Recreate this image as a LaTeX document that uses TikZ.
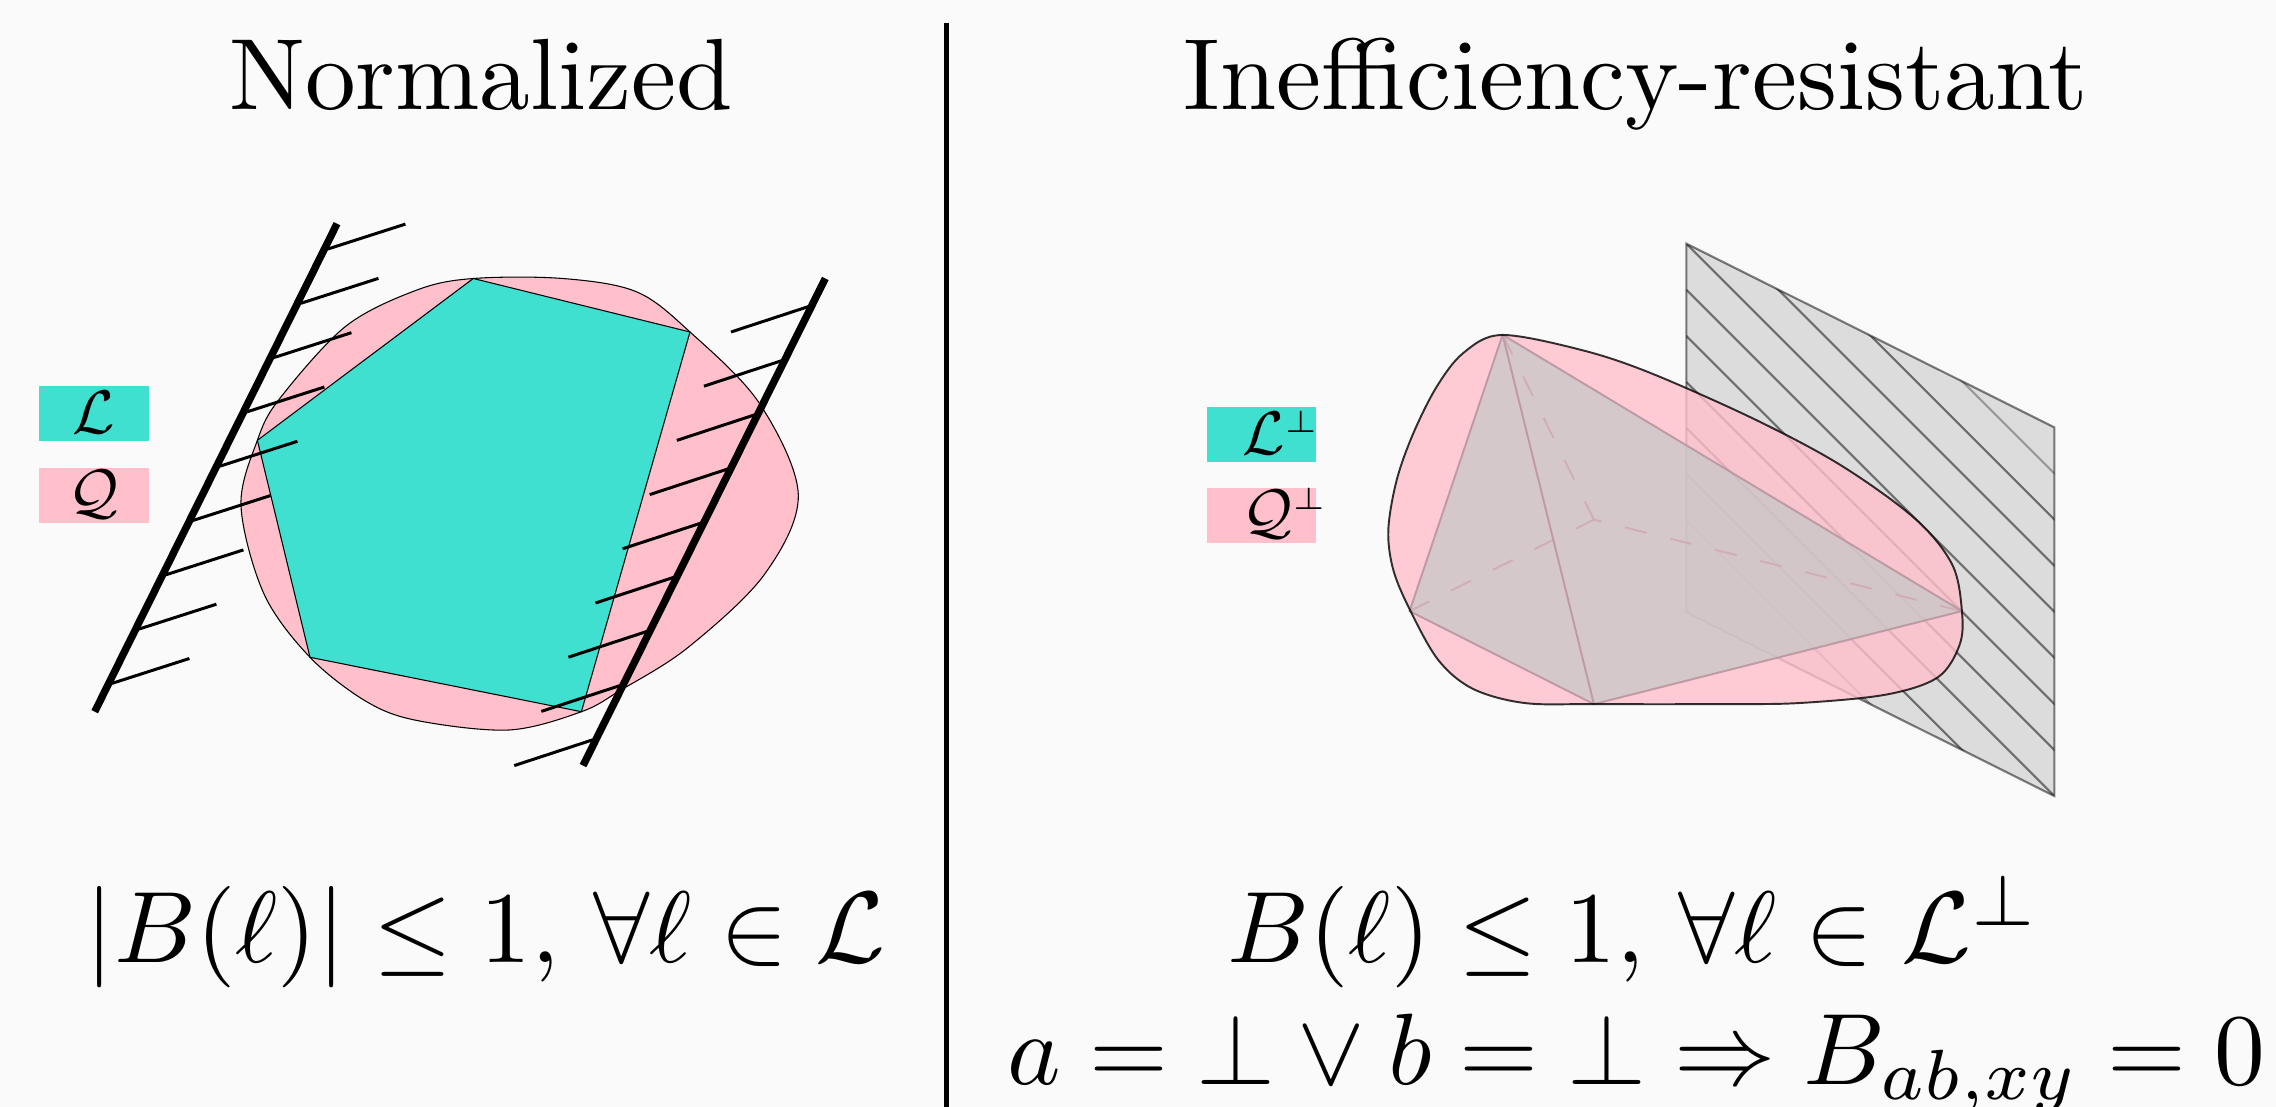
\documentclass[tikz,border=0pt]{standalone}
\usepackage{amsmath,amssymb}
\usepackage{xcolor}
\usetikzlibrary{positioning, calc}
\definecolor{pagebg}{HTML}{FAFAFA}
\definecolor{localset}{HTML}{40E0D0}
\definecolor{quantumset}{HTML}{FFC0CB}
\definecolor{planegray}{HTML}{DCDCDC}
\definecolor{bodygray}{HTML}{C7C7C7}
\definecolor{bodyedge}{HTML}{BD9AA5}
\definecolor{bodydash}{HTML}{CFAEB8}
\newcommand{\titlelabel}[1]{\scalebox{2.88}{#1}}
\newcommand{\boundlabel}[1]{\scalebox{2.885}{$#1$}}
\newcommand{\setlabel}[1]{\scalebox{1.75}{$#1$}}
\tikzset{
    headtext/.style={anchor=base, inner sep=0pt},
    legendbox/.style={text width=1.09cm, align=center, inner sep=0pt},
    legendupper/.style={legendbox, text height=0.475cm, text depth=0.075cm},
    legendlower/.style={legendbox, text height=0.44cm, text depth=0.11cm},
    wall/.style={line width=2.1pt},
    wallhatch/.style={line width=0.85pt},
    thinedge/.style={line width=0.3pt},
    edgeplane/.style={line width=0.6pt, black, opacity=0.5},
    edgebody/.style={line width=0.55pt, bodyedge},
    dashbody/.style={line width=0.55pt, bodydash, dash pattern=on 6.3pt off 6.9pt},
}
\begin{document}
\begin{tikzpicture}[x=0.01cm, y=-0.01cm]

    % Page
    \fill[pagebg] (0,0) rectangle (2276,1107);
    \useasboundingbox (0,0) rectangle (2276,1107);

    % Divider
    \coordinate (divtop) at (946.5,23);
    \coordinate (divbot) at (946.5,1107);
    \draw[line width=1.2pt] (divtop) -- (divbot);

    % Titles
    \node[headtext] (titleleft) at (481,110) {\titlelabel{Normalized}};
    \node[headtext] (titleright) at (1636,110) {\titlelabel{Inefficiency-resistant}};

    % --- LEFT: Normalized ---
    \begin{scope}
        % Sets
        \draw[fill=quantumset, thinedge] plot[smooth cycle, tension=0.55] coordinates {
            (473.3,278.5) (562.6,278.5) (636.5,291.8) (690,332) (759,402.8) (798.3,494.7)
            (764,575) (687.6,647.8) (621,690) (581.4,711.7) (509,730) (417,720.5) (366,701.3)
            (310,657.3) (264,594) (241,506) (257.4,440.3) (279.4,399) (345.7,326.3) (417,290)};
        \draw[fill=localset, thinedge] (473.3,278.5) -- (690,332) -- (581.4,711.7) -- (310,657.3) -- (257.4,440.3) -- cycle;

        % Walls
        \draw[wall] (337,223.7) -- (94.7,711.7);
        \draw[wall] (825.3,278.5) -- (583,765.6);
        \foreach \i in {0,...,8} {
            \draw[wallhatch] ($(327.9,249)+\i*(-27,54.3)$) -- ++(77.5,-24.9);
            \draw[wallhatch] ($(809,306.4)+\i*(-27.1,54.2)$) -- ++(-78,25.6);
        }

        % Legend
        \node[legendupper, fill=localset] (legendL) at (94,413.5) {\setlabel{\mathcal{L}}};
        \node[legendlower, fill=quantumset] (legendQ) at (94,495.5) {\setlabel{\mathcal{Q}}};

        % Bound
        \node[headtext] (boundleft) at (486,962.5) {\boundlabel{|B(\ell)| \leq 1,\, \forall \ell \in \mathcal{L}}};
    \end{scope}

    % --- RIGHT: Inefficiency-resistant ---
    \begin{scope}
        % Plane
        \fill[planegray] (1686.3,243.7) -- (2054.3,427.4) -- (2054.3,796) -- (1686.3,612.3) -- cycle;
        \begin{scope}
            \clip (1686.3,243.7) -- (2054.3,427.4) -- (2054.3,796) -- (1686.3,612.3) -- cycle;
            \foreach \i in {-2,...,5} {
                \draw[edgeplane] (1686.3,243.7+\i*46.08) -- ++(400,400);
            }
            \draw[edgeplane, opacity=0.3] (1686.3,243.7-3*46.08) -- ++(400,400);
            \draw[edgeplane, opacity=0.3] (1686.3,243.7+6*46.08) -- ++(400,400);
        \end{scope}
        \draw[edgeplane] (1686.3,243.7) -- (2054.3,427.4) -- (2054.3,796) -- (1686.3,612.3) -- cycle;

        % Dual set
        \fill[quantumset, opacity=0.8] plot[smooth cycle, tension=0.55] coordinates {
            (1501.7,335) (1581.8,350.1) (1650.7,373.1) (1754,419) (1840.2,464.9) (1914.8,518.5)
            (1952.1,564.4) (1961.9,611.1) (1959.6,644.8) (1937.8,677.3) (1886.1,694.6) (1800,703)
            (1725.3,704.1) (1593.9,704.1) (1524.4,703) (1472.8,688.8) (1438.3,660.1) (1410,610)
            (1393.3,570) (1388.3,530) (1396.7,480) (1413.3,433.3) (1436.7,386.7) (1463.3,353)};

        % Polytope
        \coordinate (apex) at (1502.6,334.8);
        \coordinate (west) at (1409.6,611.1);
        \coordinate (south) at (1593.9,704.1);
        \coordinate (east) at (1961.9,611.1);
        \coordinate (back) at (1593.9,519.7);
        \fill[bodygray, opacity=0.74] (apex) -- (west) -- (south) -- (east) -- cycle;
        \draw[dashbody] (apex) -- (back);
        \draw[dashbody] (west) -- (back);
        \draw[dashbody] (east) -- (back);
        \draw[edgebody] (apex) -- (west) -- (south) -- (east) -- cycle;
        \draw[edgebody] (apex) -- (south);

        % Outline
        \draw[line width=0.55pt, black, opacity=0.8] plot[smooth cycle, tension=0.55] coordinates {
            (1501.7,335) (1581.8,350.1) (1650.7,373.1) (1754,419) (1840.2,464.9) (1914.8,518.5)
            (1952.1,564.4) (1961.9,611.1) (1959.6,644.8) (1937.8,677.3) (1886.1,694.6) (1800,703)
            (1725.3,704.1) (1593.9,704.1) (1524.4,703) (1472.8,688.8) (1438.3,660.1) (1410,610)
            (1393.3,570) (1388.3,530) (1396.7,480) (1413.3,433.3) (1436.7,386.7) (1463.3,353)};

        % Legend
        \node[legendupper, fill=localset] (legendLperp) at (1261.5,434.5) {\hspace*{10pt}\setlabel{\mathcal{L}^{\scriptscriptstyle\perp}}};
        \node[legendlower, fill=quantumset] (legendQperp) at (1261.5,515.5) {\hspace*{10pt}\setlabel{\mathcal{Q}^{\scriptscriptstyle\perp}}};

        % Bounds
        \node[headtext] (boundright) at (1633.5,962.5) {\boundlabel{B(\ell) \leq 1,\, \forall \ell \in \mathcal{L}^\perp}};
        \node[headtext] (boundnull) at (1636.5,1084) {\boundlabel{a = \bot \vee b = \bot \Rightarrow B_{ab,xy} = 0}};
    \end{scope}

\end{tikzpicture}
\end{document}
